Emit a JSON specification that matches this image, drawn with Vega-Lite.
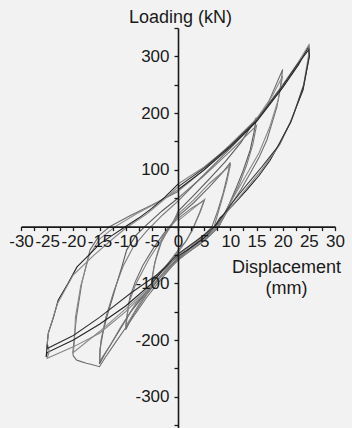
{
  "$schema": "https://vega.github.io/schema/vega-lite/v6.json",
  "width": 314,
  "height": 400,
  "autosize": {"type": "none"},
  "padding": {"left": 21, "top": 28, "right": 17, "bottom": 0},
  "background": "#f2f2f2",
  "config": {"view": {"stroke": null}},
  "datasets": {
    "loops": [
      {"c":"5a","i":1,"x":0,"y":10},{"c":"5a","i":2,"x":2,"y":25},{"c":"5a","i":3,"x":4,"y":40},{"c":"5a","i":4,"x":5.1,"y":48},{"c":"5a","i":5,"x":4.3,"y":27},{"c":"5a","i":6,"x":3.4,"y":8},{"c":"5a","i":7,"x":2.7,"y":-8},{"c":"5a","i":8,"x":1.2,"y":-30},{"c":"5a","i":9,"x":0,"y":-45},{"c":"5a","i":10,"x":-2,"y":-68},{"c":"5a","i":11,"x":-4,"y":-87},{"c":"5a","i":12,"x":-5,"y":-97},{"c":"5a","i":13,"x":-4.6,"y":-72},{"c":"5a","i":14,"x":-3.9,"y":-45},{"c":"5a","i":15,"x":-2.9,"y":-18},{"c":"5a","i":16,"x":-1.6,"y":0},{"c":"5a","i":17,"x":0,"y":14},
      {"c":"5b","i":1,"x":0,"y":14},{"c":"5b","i":2,"x":2.5,"y":32},{"c":"5b","i":3,"x":5,"y":46},{"c":"5b","i":4,"x":4.1,"y":24},{"c":"5b","i":5,"x":3.1,"y":2},{"c":"5b","i":6,"x":1.6,"y":-25},{"c":"5b","i":7,"x":0,"y":-42},{"c":"5b","i":8,"x":-2.5,"y":-72},{"c":"5b","i":9,"x":-5,"y":-93},{"c":"5b","i":10,"x":-4.4,"y":-62},{"c":"5b","i":11,"x":-3.2,"y":-28},{"c":"5b","i":12,"x":-1.9,"y":-6},{"c":"5b","i":13,"x":0,"y":18},
      {"c":"10a","i":1,"x":0,"y":18},{"c":"10a","i":2,"x":3,"y":42},{"c":"10a","i":3,"x":6,"y":70},{"c":"10a","i":4,"x":8.5,"y":95},{"c":"10a","i":5,"x":10,"y":113},{"c":"10a","i":6,"x":9.4,"y":88},{"c":"10a","i":7,"x":8.6,"y":58},{"c":"10a","i":8,"x":7.6,"y":28},{"c":"10a","i":9,"x":6.5,"y":0},{"c":"10a","i":10,"x":4,"y":-25},{"c":"10a","i":11,"x":0,"y":-55},{"c":"10a","i":12,"x":-3,"y":-85},{"c":"10a","i":13,"x":-6,"y":-120},{"c":"10a","i":14,"x":-8.5,"y":-155},{"c":"10a","i":15,"x":-10,"y":-182},{"c":"10a","i":16,"x":-9.7,"y":-155},{"c":"10a","i":17,"x":-9.2,"y":-125},{"c":"10a","i":18,"x":-8.2,"y":-98},{"c":"10a","i":19,"x":-6.7,"y":-68},{"c":"10a","i":20,"x":-4.7,"y":-38},{"c":"10a","i":21,"x":-2.7,"y":-12},{"c":"10a","i":22,"x":-1.2,"y":5},{"c":"10a","i":23,"x":0,"y":22},
      {"c":"10b","i":1,"x":0,"y":22},{"c":"10b","i":2,"x":3,"y":47},{"c":"10b","i":3,"x":6,"y":76},{"c":"10b","i":4,"x":10,"y":108},{"c":"10b","i":5,"x":9.3,"y":78},{"c":"10b","i":6,"x":8.1,"y":38},{"c":"10b","i":7,"x":6.9,"y":0},{"c":"10b","i":8,"x":3.5,"y":-30},{"c":"10b","i":9,"x":0,"y":-57},{"c":"10b","i":10,"x":-4,"y":-95},{"c":"10b","i":11,"x":-7,"y":-130},{"c":"10b","i":12,"x":-10,"y":-176},{"c":"10b","i":13,"x":-9.4,"y":-135},{"c":"10b","i":14,"x":-8.1,"y":-102},{"c":"10b","i":15,"x":-5.6,"y":-58},{"c":"10b","i":16,"x":-3.1,"y":-22},{"c":"10b","i":17,"x":-1.2,"y":2},{"c":"10b","i":18,"x":0,"y":27},
      {"c":"15a","i":1,"x":0,"y":27},{"c":"15a","i":2,"x":3,"y":55},{"c":"15a","i":3,"x":6,"y":84},{"c":"15a","i":4,"x":9,"y":114},{"c":"15a","i":5,"x":12,"y":148},{"c":"15a","i":6,"x":15,"y":192},{"c":"15a","i":7,"x":14.5,"y":165},{"c":"15a","i":8,"x":13.8,"y":135},{"c":"15a","i":9,"x":12.5,"y":100},{"c":"15a","i":10,"x":11.2,"y":70},{"c":"15a","i":11,"x":9.8,"y":40},{"c":"15a","i":12,"x":8.6,"y":17},{"c":"15a","i":13,"x":7.8,"y":0},{"c":"15a","i":14,"x":5,"y":-25},{"c":"15a","i":15,"x":2,"y":-45},{"c":"15a","i":16,"x":0,"y":-58},{"c":"15a","i":17,"x":-3,"y":-85},{"c":"15a","i":18,"x":-6,"y":-115},{"c":"15a","i":19,"x":-9,"y":-150},{"c":"15a","i":20,"x":-12,"y":-195},{"c":"15a","i":21,"x":-14,"y":-225},{"c":"15a","i":22,"x":-15,"y":-242},{"c":"15a","i":23,"x":-14.9,"y":-215},{"c":"15a","i":24,"x":-14.3,"y":-185},{"c":"15a","i":25,"x":-13.6,"y":-159},{"c":"15a","i":26,"x":-12.5,"y":-125},{"c":"15a","i":27,"x":-11.7,"y":-100},{"c":"15a","i":28,"x":-10.7,"y":-70},{"c":"15a","i":29,"x":-9.8,"y":-41},{"c":"15a","i":30,"x":-8,"y":-15},{"c":"15a","i":31,"x":-6,"y":3},{"c":"15a","i":32,"x":-3,"y":28},{"c":"15a","i":33,"x":0,"y":50},
      {"c":"15b","i":1,"x":0,"y":50},{"c":"15b","i":2,"x":5,"y":90},{"c":"15b","i":3,"x":10,"y":133},{"c":"15b","i":4,"x":13,"y":160},{"c":"15b","i":5,"x":15,"y":178},{"c":"15b","i":6,"x":14.3,"y":145},{"c":"15b","i":7,"x":13.1,"y":108},{"c":"15b","i":8,"x":11.6,"y":72},{"c":"15b","i":9,"x":9.6,"y":36},{"c":"15b","i":10,"x":8.1,"y":8},{"c":"15b","i":11,"x":7.5,"y":0},{"c":"15b","i":12,"x":4,"y":-28},{"c":"15b","i":13,"x":0,"y":-55},{"c":"15b","i":14,"x":-4,"y":-95},{"c":"15b","i":15,"x":-8,"y":-135},{"c":"15b","i":16,"x":-11,"y":-178},{"c":"15b","i":17,"x":-13,"y":-210},{"c":"15b","i":18,"x":-15,"y":-238},{"c":"15b","i":19,"x":-14.7,"y":-200},{"c":"15b","i":20,"x":-13.8,"y":-160},{"c":"15b","i":21,"x":-12.3,"y":-115},{"c":"15b","i":22,"x":-10.5,"y":-70},{"c":"15b","i":23,"x":-8.5,"y":-35},{"c":"15b","i":24,"x":-6,"y":-8},{"c":"15b","i":25,"x":-3,"y":20},{"c":"15b","i":26,"x":0,"y":45},
      {"c":"20a","i":1,"x":0,"y":45},{"c":"20a","i":2,"x":5,"y":92},{"c":"20a","i":3,"x":10,"y":138},{"c":"20a","i":4,"x":14,"y":176},{"c":"20a","i":5,"x":17,"y":213},{"c":"20a","i":6,"x":20,"y":277},{"c":"20a","i":7,"x":19.5,"y":242},{"c":"20a","i":8,"x":18.9,"y":211},{"c":"20a","i":9,"x":17,"y":153},{"c":"20a","i":10,"x":15.5,"y":122},{"c":"20a","i":11,"x":13.8,"y":94},{"c":"20a","i":12,"x":12,"y":65},{"c":"20a","i":13,"x":9.9,"y":35},{"c":"20a","i":14,"x":8.5,"y":12},{"c":"20a","i":15,"x":7.8,"y":0},{"c":"20a","i":16,"x":5,"y":-25},{"c":"20a","i":17,"x":0,"y":-58},{"c":"20a","i":18,"x":-3,"y":-90},{"c":"20a","i":19,"x":-6,"y":-125},{"c":"20a","i":20,"x":-9,"y":-165},{"c":"20a","i":21,"x":-12,"y":-205},{"c":"20a","i":22,"x":-14,"y":-232},{"c":"20a","i":23,"x":-15,"y":-247},{"c":"20a","i":24,"x":-16.5,"y":-243},{"c":"20a","i":25,"x":-17.5,"y":-241},{"c":"20a","i":26,"x":-18.5,"y":-238},{"c":"20a","i":27,"x":-19.4,"y":-235},{"c":"20a","i":28,"x":-20,"y":-228},{"c":"20a","i":29,"x":-20.1,"y":-222},{"c":"20a","i":30,"x":-19.4,"y":-159},{"c":"20a","i":31,"x":-18.4,"y":-100},{"c":"20a","i":32,"x":-16.8,"y":-41},{"c":"20a","i":33,"x":-15,"y":-15},{"c":"20a","i":34,"x":-13,"y":0},{"c":"20a","i":35,"x":-9,"y":20},{"c":"20a","i":36,"x":-5,"y":38},{"c":"20a","i":37,"x":0,"y":62},
      {"c":"20b","i":1,"x":0,"y":62},{"c":"20b","i":2,"x":5,"y":100},{"c":"20b","i":3,"x":10,"y":145},{"c":"20b","i":4,"x":15,"y":190},{"c":"20b","i":5,"x":18,"y":230},{"c":"20b","i":6,"x":20,"y":265},{"c":"20b","i":7,"x":19.2,"y":225},{"c":"20b","i":8,"x":17.5,"y":175},{"c":"20b","i":9,"x":15.5,"y":130},{"c":"20b","i":10,"x":13,"y":90},{"c":"20b","i":11,"x":10.5,"y":50},{"c":"20b","i":12,"x":8.5,"y":15},{"c":"20b","i":13,"x":7.8,"y":0},{"c":"20b","i":14,"x":4,"y":-30},{"c":"20b","i":15,"x":0,"y":-60},{"c":"20b","i":16,"x":-5,"y":-103},{"c":"20b","i":17,"x":-10,"y":-145},{"c":"20b","i":18,"x":-15,"y":-185},{"c":"20b","i":19,"x":-20,"y":-222},{"c":"20b","i":20,"x":-19.8,"y":-205},{"c":"20b","i":21,"x":-19.6,"y":-160},{"c":"20b","i":22,"x":-18.6,"y":-105},{"c":"20b","i":23,"x":-17,"y":-52},{"c":"20b","i":24,"x":-15,"y":-22},{"c":"20b","i":25,"x":-12,"y":0},{"c":"20b","i":26,"x":-8,"y":22},{"c":"20b","i":27,"x":-4,"y":42},{"c":"20b","i":28,"x":0,"y":65},
      {"c":"25a","i":1,"x":0,"y":65},{"c":"25a","i":2,"x":5,"y":100},{"c":"25a","i":3,"x":10,"y":140},{"c":"25a","i":4,"x":15,"y":185},{"c":"25a","i":5,"x":20,"y":245},{"c":"25a","i":6,"x":23,"y":285},{"c":"25a","i":7,"x":25,"y":318},{"c":"25a","i":8,"x":25.1,"y":302},{"c":"25a","i":9,"x":23.9,"y":241},{"c":"25a","i":10,"x":21.4,"y":182},{"c":"25a","i":11,"x":19.5,"y":148},{"c":"25a","i":12,"x":17.6,"y":117},{"c":"25a","i":13,"x":15.5,"y":90},{"c":"25a","i":14,"x":13.2,"y":65},{"c":"25a","i":15,"x":10.5,"y":38},{"c":"25a","i":16,"x":8,"y":15},{"c":"25a","i":17,"x":7,"y":0},{"c":"25a","i":18,"x":5,"y":-20},{"c":"25a","i":19,"x":2,"y":-40},{"c":"25a","i":20,"x":0,"y":-52},{"c":"25a","i":21,"x":-3,"y":-78},{"c":"25a","i":22,"x":-5,"y":-100},{"c":"25a","i":23,"x":-10,"y":-140},{"c":"25a","i":24,"x":-15,"y":-172},{"c":"25a","i":25,"x":-20,"y":-200},{"c":"25a","i":26,"x":-25,"y":-222},{"c":"25a","i":27,"x":-25.2,"y":-230},{"c":"25a","i":28,"x":-25,"y":-210},{"c":"25a","i":29,"x":-24.8,"y":-188},{"c":"25a","i":30,"x":-23.8,"y":-160},{"c":"25a","i":31,"x":-22.9,"y":-130},{"c":"25a","i":32,"x":-21,"y":-100},{"c":"25a","i":33,"x":-19.3,"y":-71},{"c":"25a","i":34,"x":-17,"y":-50},{"c":"25a","i":35,"x":-14.9,"y":-30},{"c":"25a","i":36,"x":-12.5,"y":-15},{"c":"25a","i":37,"x":-10,"y":0},{"c":"25a","i":38,"x":-7.5,"y":15},{"c":"25a","i":39,"x":-5,"y":32},{"c":"25a","i":40,"x":-2.5,"y":52},{"c":"25a","i":41,"x":0,"y":75},
      {"c":"25b","i":1,"x":0,"y":75},{"c":"25b","i":2,"x":5,"y":105},{"c":"25b","i":3,"x":10,"y":143},{"c":"25b","i":4,"x":15,"y":188},{"c":"25b","i":5,"x":20,"y":250},{"c":"25b","i":6,"x":23,"y":290},{"c":"25b","i":7,"x":25,"y":320},{"c":"25b","i":8,"x":25,"y":305},{"c":"25b","i":9,"x":24,"y":250},{"c":"25b","i":10,"x":22,"y":195},{"c":"25b","i":11,"x":19.5,"y":145},{"c":"25b","i":12,"x":16,"y":100},{"c":"25b","i":13,"x":12,"y":55},{"c":"25b","i":14,"x":9,"y":22},{"c":"25b","i":15,"x":7.3,"y":0},{"c":"25b","i":16,"x":3,"y":-30},{"c":"25b","i":17,"x":0,"y":-50},{"c":"25b","i":18,"x":-5,"y":-105},{"c":"25b","i":19,"x":-10,"y":-150},{"c":"25b","i":20,"x":-15,"y":-188},{"c":"25b","i":21,"x":-20,"y":-212},{"c":"25b","i":22,"x":-25,"y":-232},{"c":"25b","i":23,"x":-24.6,"y":-220},{"c":"25b","i":24,"x":-25,"y":-205},{"c":"25b","i":25,"x":-24.7,"y":-185},{"c":"25b","i":26,"x":-23,"y":-135},{"c":"25b","i":27,"x":-20,"y":-85},{"c":"25b","i":28,"x":-16,"y":-50},{"c":"25b","i":29,"x":-12,"y":-18},{"c":"25b","i":30,"x":-10,"y":-3},{"c":"25b","i":31,"x":-6,"y":22},{"c":"25b","i":32,"x":-3,"y":45},{"c":"25b","i":33,"x":0,"y":70},
      {"c":"25c","i":1,"x":0,"y":70},{"c":"25c","i":2,"x":5,"y":103},{"c":"25c","i":3,"x":10,"y":142},{"c":"25c","i":4,"x":15,"y":187},{"c":"25c","i":5,"x":20,"y":248},{"c":"25c","i":6,"x":23,"y":288},{"c":"25c","i":7,"x":25,"y":312},{"c":"25c","i":8,"x":25.1,"y":300},{"c":"25c","i":9,"x":24,"y":248},{"c":"25c","i":10,"x":21.6,"y":185},{"c":"25c","i":11,"x":19,"y":140},{"c":"25c","i":12,"x":16,"y":105},{"c":"25c","i":13,"x":13,"y":72},{"c":"25c","i":14,"x":10,"y":38},{"c":"25c","i":15,"x":7.5,"y":5},{"c":"25c","i":16,"x":7,"y":0},{"c":"25c","i":17,"x":3.5,"y":-25},{"c":"25c","i":18,"x":0,"y":-48},{"c":"25c","i":19,"x":-4,"y":-85},{"c":"25c","i":20,"x":-9,"y":-117},{"c":"25c","i":21,"x":-15,"y":-160},{"c":"25c","i":22,"x":-20,"y":-192},{"c":"25c","i":23,"x":-25,"y":-215},{"c":"25c","i":24,"x":-25,"y":-208}
    ]
  },
  "data": {"name": "loops"},
  "mark": {"type": "line", "strokeWidth": 1.1, "interpolate": "linear"},
  "encoding": {
    "x": {
      "field": "x", "type": "quantitative",
      "scale": {"domain": [-30, 30], "nice": false, "zero": false},
      "axis": {
        "orient": "bottom", "offset": -201.4, "zindex": 1,
        "values": [-30,-27.5,-25,-22.5,-20,-17.5,-15,-12.5,-10,-7.5,-5,-2.5,0,2.5,5,7.5,10,12.5,15,17.5,20,22.5,25,27.5,30],
        "labelExpr": "datum.value % 5 === 0 ? '' + datum.value : ''",
        "grid": false, "domainColor": "#1a1a1a", "domainWidth": 1.6,
        "tickColor": "#1a1a1a", "tickWidth": 1.3, "tickSize": 4,
        "labelFont": "Liberation Sans", "labelFontSize": 17, "labelColor": "#1a1a1a",
        "labelPadding": 3, "labelOverlap": false, "labelBound": false, "labelFlush": false,
        "title": ["Displacement", "(mm)"],
        "titleFont": "Liberation Sans", "titleFontSize": 18, "titleFontWeight": "normal", "titleColor": "#1a1a1a",
        "titleX": 265, "titleY": 46, "titleAlign": "center", "titleBaseline": "alphabetic", "titleLineHeight": 21
      }
    },
    "y": {
      "field": "y", "type": "quantitative",
      "scale": {"domain": [-355, 350], "nice": false, "zero": false},
      "axis": {
        "orient": "left", "offset": -157, "zindex": 1,
        "values": [-350,-300,-250,-200,-150,-100,-50,0,50,100,150,200,250,300,350],
        "labelExpr": "datum.value % 100 === 0 && datum.value !== 0 ? '' + datum.value : ''",
        "grid": false, "domainColor": "#1a1a1a", "domainWidth": 1.6,
        "tickColor": "#1a1a1a", "tickWidth": 1.3, "tickSize": 4,
        "labelFont": "Liberation Sans", "labelFontSize": 17, "labelColor": "#1a1a1a",
        "labelPadding": 5, "labelOverlap": false, "labelBound": false, "labelFlush": false,
        "title": "Loading (kN)",
        "titleFont": "Liberation Sans", "titleFontSize": 18, "titleFontWeight": "normal", "titleColor": "#1a1a1a",
        "titleAngle": 0, "titleX": 2, "titleY": -6, "titleAlign": "center", "titleBaseline": "alphabetic"
      }
    },
    "detail": {"field": "c"},
    "order": {"field": "i", "type": "quantitative"},
    "color": {
      "field": "c", "type": "nominal",
      "scale": {
        "domain": ["5a", "5b", "10a", "10b", "15a", "15b", "20a", "20b", "25a", "25b", "25c"],
        "range": ["#8a8a8a", "#7a7a7a", "#6a6a6a", "#808080", "#5a5a5a", "#7a7a7a", "#6e6e6e", "#8a8a8a", "#222222", "#858585", "#333333"]
      },
      "legend": null
    }
  }
}
